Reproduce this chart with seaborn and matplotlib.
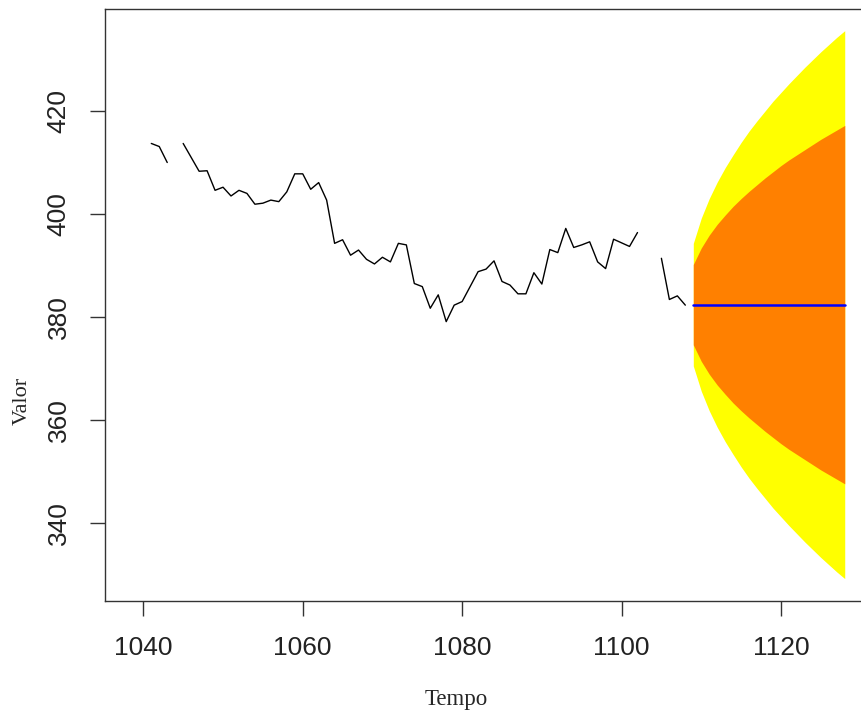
import numpy as np
import pandas as pd
import matplotlib
matplotlib.use("Agg")
import matplotlib.pyplot as plt
import seaborn as sns

# serie observada (NaN = falta de dado)
tempo_obs = list(range(1041, 1109))
valor_obs = [413.7, 413.1, 410.0, np.nan, 413.7, 411.0, 408.3, 408.4, 404.6, 405.2,
             403.5, 404.6, 404.0, 401.9, 402.1, 402.7, 402.4, 404.3, 407.8, 407.8,
             404.8, 406.1, 402.7, 394.3, 395.0, 392.0, 393.0, 391.2, 390.3, 391.6,
             390.7, 394.3, 394.0, 386.5, 385.9, 381.7, 384.3, 379.1, 382.3, 383.0,
             385.9, 388.8, 389.3, 390.9, 386.9, 386.2, 384.5, 384.5, 388.6, 386.4,
             393.1, 392.5, 397.2, 393.5, 394.0, 394.6, 390.7, 389.4, 395.1, 394.4,
             393.7, 396.4, np.nan, np.nan, 391.4, 383.4, 384.1, 382.3]

# previsao e intervalos (80% e 95%)
tempo_prev = list(range(1109, 1129))
media_prev = [382.4] * 20
sup95 = [394.3, 399.2, 403.0, 406.2, 409.0, 411.5, 413.9, 416.1, 418.1, 420.0,
         421.9, 423.6, 425.3, 426.9, 428.5, 430.0, 431.5, 432.9, 434.3, 435.6]
inf95 = [370.5, 365.6, 361.8, 358.6, 355.8, 353.3, 350.9, 348.7, 346.7, 344.8,
         342.9, 341.2, 339.5, 337.9, 336.3, 334.8, 333.3, 331.9, 330.5, 329.2]
sup80 = [390.2, 393.4, 395.9, 398.0, 399.8, 401.5, 403.0, 404.4, 405.7, 407.0,
         408.2, 409.4, 410.5, 411.5, 412.5, 413.5, 414.5, 415.4, 416.3, 417.2]
inf80 = [374.6, 371.4, 368.9, 366.8, 365.0, 363.3, 361.8, 360.4, 359.1, 357.8,
         356.6, 355.4, 354.3, 353.3, 352.3, 351.3, 350.3, 349.4, 348.5, 347.6]

sns.set_style("ticks")
plt.rcParams['font.family'] = ['Liberation Sans', 'DejaVu Sans']

df = pd.DataFrame({"tempo": tempo_obs, "valor": valor_obs})
df["trecho"] = df["valor"].isna().cumsum()
df = df.dropna()

prev = pd.DataFrame({"tempo": tempo_prev, "media": media_prev})

fig = plt.figure(figsize=(8.62, 7.18), dpi=100)
ax = fig.add_axes([105.3 / 862, 117 / 718, (870 - 105.3) / 862, (601 - 9.3) / 718])

# bandas de previsao
ax.fill_between(tempo_prev, inf95, sup95, color="#FFFF00", linewidth=0)
ax.fill_between(tempo_prev, inf80, sup80, color="#FF8000", linewidth=0)

sns.lineplot(data=df, x="tempo", y="valor", units="trecho", estimator=None,
             color="black", linewidth=1.0, ax=ax)
sns.lineplot(data=prev, x="tempo", y="media", color="#0000FF", linewidth=1.8, ax=ax)

ax.set_xlim(1035.23, 1131.17)
ax.set_ylim(324.85, 439.75)
ax.set_xticks([1040, 1060, 1080, 1100, 1120])
ax.set_yticks([340, 360, 380, 400, 420])

for s in ["left", "bottom", "top"]:
    ax.spines[s].set_color("#333333")
    ax.spines[s].set_linewidth(1.0)
ax.spines["right"].set_visible(False)

ax.tick_params(axis="both", length=11, width=1.0, color="#333333",
               labelsize=19, pad=14, labelcolor="#222222")
plt.setp(ax.get_yticklabels(), rotation=90, va="center")

ax.set_xlabel("Tempo", family="Liberation Serif", fontsize=16.5, va="center")
ax.set_ylabel("Valor", family="Liberation Serif", fontsize=16, va="center")
ax.xaxis.set_label_coords(0.4586, -0.167)
ax.yaxis.set_label_coords(-0.109, 0.338)

fig.savefig("out.png", dpi=100)
